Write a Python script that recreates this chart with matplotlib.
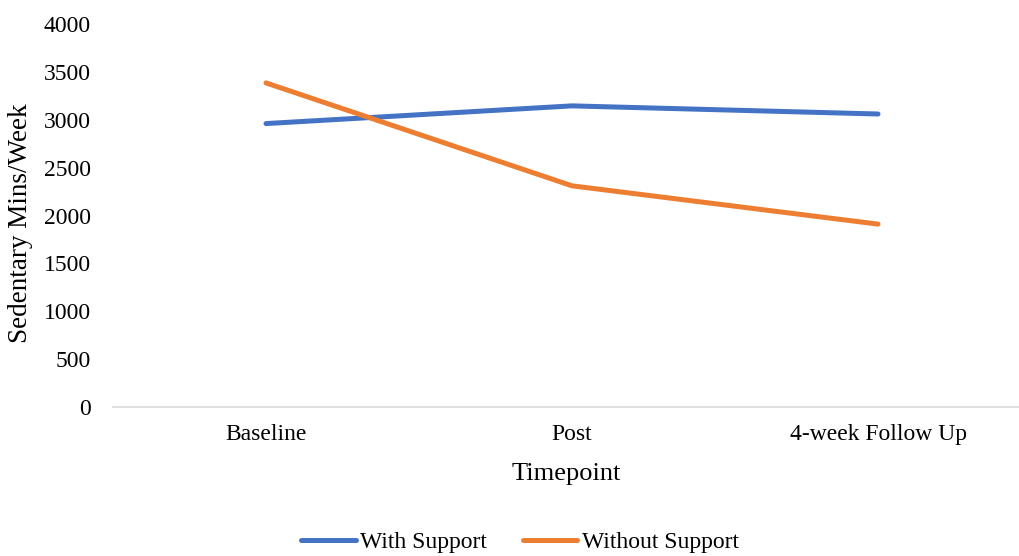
import matplotlib
matplotlib.use("Agg")
import matplotlib.pyplot as plt

# Sedentary minutes per week at each timepoint
timepoints = ["Baseline", "Post", "4-week Follow Up"]
with_support = [2960, 3145, 3060]
without_support = [3385, 2310, 1910]

plt.rcParams['font.family'] = ['Liberation Serif', 'DejaVu Serif']

fig = plt.figure(figsize=(10.19, 5.56), dpi=100)
ax = fig.add_axes([113 / 1019, 149 / 556, 906 / 1019, 383 / 556])

x = range(len(timepoints))
ax.plot(x, with_support, color="#4472C4", linewidth=3.6, label="With Support",
        solid_capstyle="round")
ax.plot(x, without_support, color="#ED7D31", linewidth=3.6, label="Without Support",
        solid_capstyle="round")

ax.set_xlim(-0.5, 2 + 141 / 306)
ax.set_ylim(0, 4000)
ax.set_yticks(range(0, 4001, 500))
ax.set_xticks(list(x))
ax.set_xticklabels(timepoints)

for side in ["top", "right", "left"]:
    ax.spines[side].set_visible(False)
ax.spines["bottom"].set_color("#D9D9D9")
ax.spines["bottom"].set_linewidth(1.2)

ax.tick_params(axis="y", length=0, pad=16, labelsize=17)
ax.tick_params(axis="x", length=0, pad=12, labelsize=17)

ax.set_xlabel("Timepoint", fontsize=19, labelpad=13)
ax.set_ylabel("Sedentary Mins/Week", fontsize=19.5)
ax.yaxis.set_label_coords(-80 / 906, 0.48)

fig.legend(loc="center", bbox_to_anchor=(520 / 1019, 1 - 542 / 556), ncol=2,
           frameon=False, fontsize=17, handlelength=2.3, handletextpad=0.2,
           columnspacing=1.5)

fig.savefig("out.png", dpi=100)
